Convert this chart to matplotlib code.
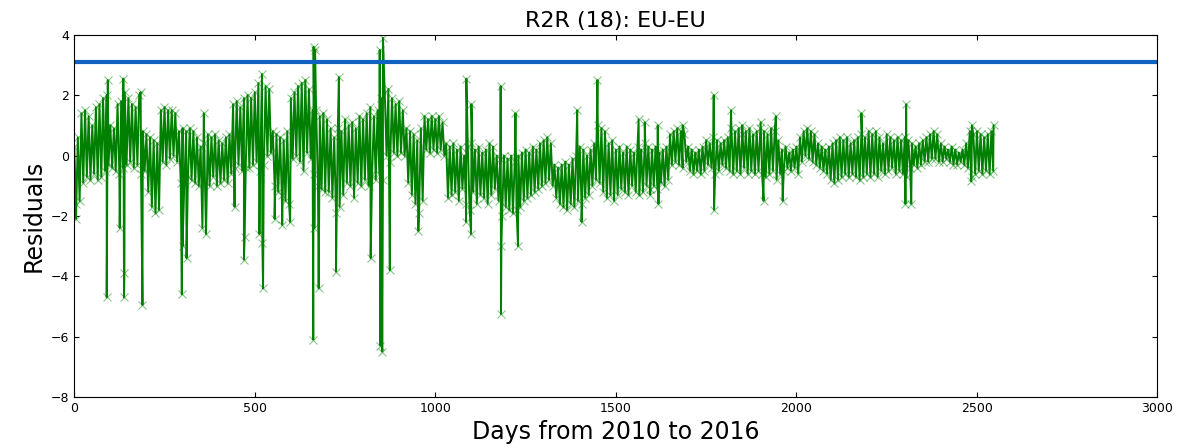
import numpy as np
import matplotlib
matplotlib.use("Agg")
import matplotlib.pyplot as plt

# residual band: upper / lower value every 10 days
band_start = 0
band_step = 10
upper = [
    0.3, 0.6, 1.4, 1.5, 1.3, 1.0, 1.6, 1.7, 1.9, 2.0,
    1.0, 0.9, 1.7, 1.8, 2.1, 1.9, 1.7, 1.6, 2.0, 0.8,
    0.7, 0.6, 0.5, 0.4, 1.5, 1.6, 1.5, 1.5, 1.4, 0.8,
    0.9, 0.8, 0.9, 0.8, 0.6, 0.3, 0.4, 0.7, 0.6, 0.7,
    0.5, 0.4, 0.6, 0.7, 1.7, 1.8, 1.6, 1.9, 2.0, 1.9,
    2.1, 2.4, 2.7, 2.3, 2.2, 0.8, 0.7, 0.6, 0.5, 0.8,
    1.9, 2.1, 2.3, 2.4, 2.5, 2.2, 1.5, 1.5, 1.3, 1.4,
    1.2, 0.9, 0.6, 0.9, 0.8, 1.2, 1.0, 1.1, 0.9, 1.3,
    1.2, 1.4, 1.6, 1.3, 1.5, 1.9, 2.1, 2.2, 1.9, 1.7,
    1.8, 1.5, 0.9, 0.8, 0.7, 0.5, 0.9, 1.3, 1.2, 1.3,
    1.2, 1.3, 1.1, 0.4, 0.3, 0.4, 0.2, 0.3, 0.0, 0.3,
    0.4, 0.2, 0.3, 0.1, 0.2, 0.4, 0.3, 0.0, -0.1, 0.0,
    -0.1, 0.0, -0.2, 0.0, 0.1, 0.2, 0.1, 0.3, 0.2, 0.4,
    0.5, 0.6, 0.4, -0.3, -0.4, -0.3, -0.2, -0.3, -0.1, 0.0,
    0.3, 0.2, 0.0, 0.2, 0.4, 1.0, 0.9, 0.8, 0.4, 0.5,
    0.2, 0.3, 0.1, 0.3, 0.2, 0.1, 0.3, 0.2, 0.4, 0.3,
    0.2, 0.3, 0.1, 0.2, 0.3, 0.7, 0.8, 0.9, 0.8, 0.7,
    0.3, 0.2, 0.1, 0.2, 0.3, 0.5, 0.4, 0.6, 0.5, 0.4,
    0.5, 0.6, 0.9, 0.8, 0.9, 0.7, 0.8, 0.9, 0.7, 0.8,
    0.9, 0.8, 0.7, 0.9, 0.8, 0.5, 0.2, 0.3, 0.1, 0.2,
    0.3, 0.6, 0.8, 0.9, 0.8, 0.7, 0.4, 0.3, 0.2, 0.3,
    0.4, 0.5, 0.6, 0.5, 0.6, 0.4, 0.5, 0.6, 0.7, 0.6,
    0.8, 0.7, 0.8, 0.6, 0.4, 0.7, 0.6, 0.5, 0.6, 0.5,
    0.6, 0.5, 0.4, 0.3, 0.4, 0.5, 0.6, 0.7, 0.8, 0.7,
    0.4, 0.3, 0.2, 0.3, 0.2, 0.1, 0.2, 0.4, 0.8, 0.7,
    0.8, 0.7, 0.6, 0.7, 0.8,
]
lower = [
    -1.6, -1.5, -0.9, -0.7, -0.8, -0.6, -0.8, -0.7, -0.5, -0.3,
    -0.4, -0.5, -0.6, -0.4, -0.3, -0.2, -0.4, -0.3, -0.6, -0.5,
    -1.2, -1.7, -1.9, -1.8, -0.2, -0.3, -0.1, 0.0, -0.2, -0.9,
    -0.9, -0.7, -0.8, -0.9, -1.0, -2.4, -2.6, -1.0, -0.7, -1.0,
    -0.9, -0.8, -0.9, -0.6, -0.4, -0.3, -0.5, -0.4, -0.4, -0.3,
    -0.2, -0.5, -0.3, 0.0, 0.1, -1.0, -1.2, -1.3, -1.5, -1.6,
    -0.1, 0.0, -0.2, -0.5, 0.1, -0.1, -0.6, -1.0, -1.1, -1.2,
    -1.2, -1.4, -1.9, -1.7, -1.3, -0.9, -1.0, -1.4, -0.9, -1.0,
    -0.8, -1.0, -0.6, -0.8, -0.6, -0.8, 0.0, -0.2, 0.1, 0.0,
    0.1, 0.0, -0.9, -1.3, -1.6, -1.9, -1.5, 0.2, 0.1, 0.2,
    0.1, 0.2, 0.0, -1.4, -1.3, -1.2, -1.5, -1.1, -1.6, -1.8,
    -1.2, -1.6, -1.3, -1.4, -1.6, -1.3, -1.1, -1.5, -2.0, -1.7,
    -1.8, -1.9, -1.8, -1.7, -1.5, -1.4, -1.3, -1.2, -1.1, -1.0,
    -0.9, -0.8, -1.0, -1.4, -1.6, -1.7, -1.8, -1.6, -1.7, -1.5,
    -1.6, -1.4, -1.3, -1.0, -0.8, -0.9, -1.2, -1.4, -1.3, -1.5,
    -1.3, -1.1, -1.2, -1.3, -1.0, -1.2, -1.3, -1.2, -1.0, -1.1,
    -1.0, -1.1, -0.9, -1.0, -0.8, -0.3, -0.2, -0.3, -0.4, -0.2,
    -0.5, -0.6, -0.5, -0.6, -0.5, -0.3, -0.4, -0.6, -0.5, -0.3,
    -0.4, -0.5, -0.6, -0.5, -0.6, -0.4, -0.6, -0.5, -0.6, -0.5,
    -0.6, -0.7, -0.6, -0.5, -0.8, -0.6, -0.5, -0.4, -0.5, -0.4,
    -0.6, -0.2, 0.0, -0.1, -0.2, -0.3, -0.4, -0.5, -0.6, -0.8,
    -0.9, -0.8, -0.7, -0.6, -0.7, -0.6, -0.7, -0.8, -0.7, -0.6,
    -0.7, -0.6, -0.7, -0.5, -0.6, -0.5, -0.4, -0.6, -0.5, -0.6,
    -0.7, -0.4, -0.3, -0.4, -0.3, -0.2, -0.2, -0.1, -0.1, -0.2,
    -0.2, -0.1, -0.2, -0.3, -0.3, -0.2, -0.3, -0.4, -0.7, -0.6,
    -0.5, -0.6, -0.5, -0.6, -0.5,
]

# isolated spikes (day, residual)
spike_days = [5, 90, 93, 126, 136, 138, 139, 184, 189, 298, 300, 311, 359,
              444, 470, 472, 513, 521, 523, 555, 576, 598, 662, 663, 665,
              667, 677, 725, 733, 821, 846, 848, 853, 855, 874, 953, 1085,
              1086, 1099, 1100, 1181, 1182, 1183, 1222, 1229, 1393, 1405,
              1449, 1563, 1580, 1595, 1616, 1618, 1685, 1771, 1772, 1819,
              1850, 1901, 1909, 1943, 1962, 2180, 2302, 2304, 2318, 2484,
              2486, 2546]
spike_vals = [-2.1, -4.7, 2.5, -2.4, 2.55, -4.7, -3.9, 2.1, -4.95, -4.6, -3.0,
              -3.4, 1.4, -1.7, -3.45, -2.7, -2.6, -2.9, -4.4, -2.1, -2.3, -2.2,
              -6.1, 3.6, -2.4, 3.5, -4.4, -3.85, 2.6, -3.4, 3.5, -6.3, -6.5,
              3.9, -3.8, -2.5, -2.2, 2.55, -2.6, 1.7, 2.3, -5.25, -3.0, 1.4,
              -3.0, 1.5, -2.2, 2.5, 1.2, 1.1, -1.3, 1.0, -1.6, 1.0, 2.0, -1.8,
              1.5, 1.0, 1.1, -1.5, 1.3, -1.5, 1.4, -1.6, 1.7, -1.6, -0.85,
              1.0, 1.0]

threshold = 3.1

# build the day/residual series: upper at each day, lower half a step later
band_days = band_start + band_step * np.arange(len(upper))
days = np.concatenate([band_days, band_days + band_step / 2, spike_days])
vals = np.concatenate([upper, lower, spike_vals])
order = np.argsort(days, kind="stable")
days = days[order]
vals = vals[order]

fig, ax = plt.subplots(figsize=(11.97, 4.47), dpi=100)
fig.subplots_adjust(left=0.062, right=0.967, top=0.922, bottom=0.112)

ax.plot(days, vals, color="green", linewidth=1.4, marker="x", markersize=6,
        markeredgewidth=0.8, markeredgecolor=(0.0, 0.5, 0.0, 0.45))
ax.axhline(threshold, color="#0f62c0", linewidth=3)

ax.set_xlim(0, 3000)
ax.set_ylim(-8, 4)
ax.set_xticks(np.arange(0, 3001, 500))
ax.set_yticks(np.arange(-8, 5, 2))
ax.tick_params(direction="in", top=True, right=True, labelsize=9)

ax.set_title("R2R (18): EU-EU", fontsize=16)
ax.set_xlabel("Days from 2010 to 2016", fontsize=17)
ax.set_ylabel("Residuals", fontsize=17)

plt.savefig("out.png", dpi=100)
